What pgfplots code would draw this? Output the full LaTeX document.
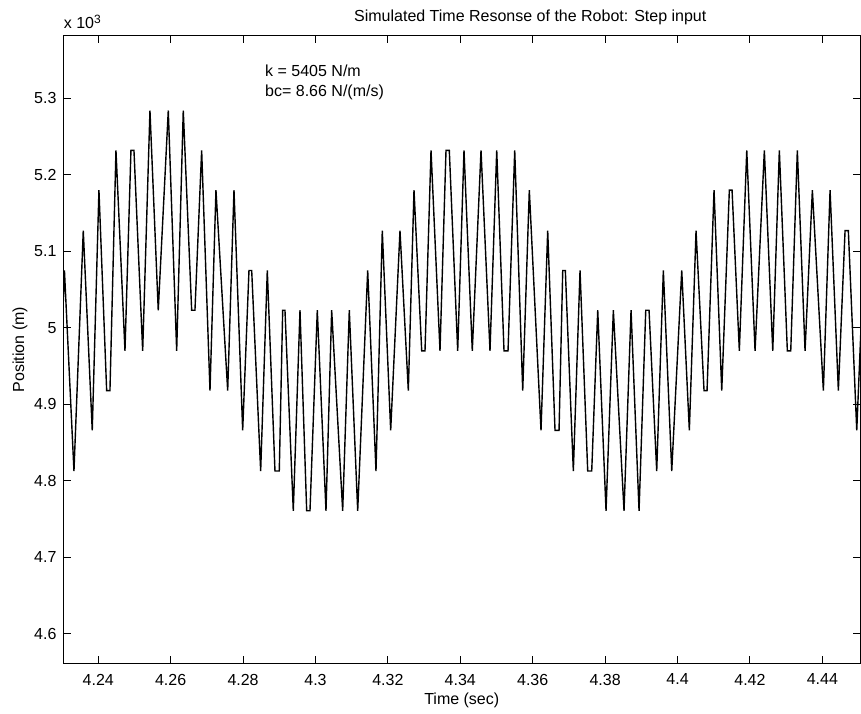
\documentclass[border=0pt]{standalone}
\usepackage{fontspec}
\setmainfont{Liberation Sans}
\usepackage{pgfplots}
\usepackage{pgfplotstable}
\pgfplotsset{compat=1.18}

% Sampled position response (time in s, position in m)
\pgfplotstableread{
t        pos
4.22900  4866
4.23066  5075
4.23329  4813
4.23586  5127
4.23834  4866
4.24019  5180
4.24232  4918
4.24323  4918
4.24489  5232
4.24738  4970
4.24903  5232
4.24986  5232
4.25227  4970
4.25428  5284
4.25657  5023
4.25934  5284
4.26166  4970
4.26348  5284
4.26580  5023
4.26671  5023
4.26856  5232
4.27086  4918
4.27251  5180
4.27575  4918
4.27749  5180
4.27989  4866
4.28163  5075
4.28238  5075
4.28486  4813
4.28669  5075
4.28881  4813
4.29000  4813
4.29094  5023
4.29157  5023
4.29387  4761
4.29572  5023
4.29757  4761
4.29848  4761
4.30050  5023
4.30290  4761
4.30447  5023
4.30751  4761
4.30934  5023
4.31166  4761
4.31442  5075
4.31671  4813
4.31845  5127
4.32077  4866
4.32334  5127
4.32564  4918
4.32721  5180
4.32934  4970
4.33025  4970
4.33191  5232
4.33439  4970
4.33605  5232
4.33696  5232
4.33928  4970
4.34102  5232
4.34331  4970
4.34572  5232
4.34820  4970
4.35006  5232
4.35207  4970
4.35318  4970
4.35503  5232
4.35724  4918
4.35906  5180
4.36229  4866
4.36414  5127
4.36616  4866
4.36727  4866
4.36829  5075
4.36901  5075
4.37122  4813
4.37307  5075
4.37519  4813
4.37630  4813
4.37796  5023
4.38025  4761
4.38227  5023
4.38522  4761
4.38716  5023
4.38937  4761
4.39122  5023
4.39213  5023
4.39425  4813
4.39608  5075
4.39840  4813
4.40116  5075
4.40326  4866
4.40511  5127
4.40732  4918
4.40815  4918
4.41008  5180
4.41221  4918
4.41431  5180
4.41506  5180
4.41707  4970
4.41912  5232
4.42141  4970
4.42398  5232
4.42630  4970
4.42812  5232
4.43033  4970
4.43127  4970
4.43309  5232
4.43522  4970
4.43724  5180
4.44028  4918
4.44213  5180
4.44442  4918
4.44627  5127
4.44718  5127
4.44950  4866
4.45179  5127
}\response

\begin{document}
\begin{tikzpicture}[font=\fontsize{8}{9.6}\selectfont]
\useasboundingbox (0,0) rectangle (430.5pt,356.5pt);
\begin{axis}[
  at={(31.75pt,24.85pt)}, anchor=south west,
  scale only axis, width=398.25pt, height=313.65pt,
  xmin=4.2304, xmax=4.4504, ymin=4561.7, ymax=5381.4,
  xtick={4.24,4.26,4.28,4.30,4.32,4.34,4.36,4.38,4.40,4.42,4.44},
  xticklabels={4.24,4.26,4.28,4.3,4.32,4.34,4.36,4.38,4.4,4.42,4.44},
  ytick={4600,4700,4800,4900,5000,5100,5200,5300},
  scaled x ticks=false,
  scaled y ticks=base 10:-3,
  ytick scale label code/.code={x 10\textsuperscript{#1}},
  every y tick scale label/.style={at={(rel axis cs:0,1)}, anchor=base west,
    inner sep=0pt, yshift=3.5pt},
  /pgf/number format/assume math mode=true,
  tick align=inside, major tick length=3.5pt,
  axis line style={line width=0.5pt},
  every tick/.style={black, line width=0.5pt},
  xticklabel style={yshift=-1.8pt},
  every axis title shift=0pt,
  title={Simulated Time Resonse of the Robot: Step input},
  title style={at={(rel axis cs:0.586,1)}, anchor=base, yshift=7pt, inner sep=0pt},
  xlabel={Time (sec)},
  xlabel style={at={(rel axis cs:0.5,0)}, anchor=base, yshift=-20.35pt, inner sep=0pt},
  ylabel={Position (m)},
  % the label is turned by 90 degrees, so its own y direction points left
  ylabel style={at={(rel axis cs:0,0.5)}, anchor=center, yshift=21.75pt, inner sep=0pt},
]
\addplot[black, line width=0.7pt] table[x=t, y=pos] {\response};
\node[anchor=base west, inner sep=0pt] at (axis cs:4.2860,5328) {k = 5405 N/m};
\node[anchor=base west, inner sep=0pt] at (axis cs:4.2860,5302) {bc= 8.66 N/(m/s)};
\end{axis}
\end{tikzpicture}
\end{document}
